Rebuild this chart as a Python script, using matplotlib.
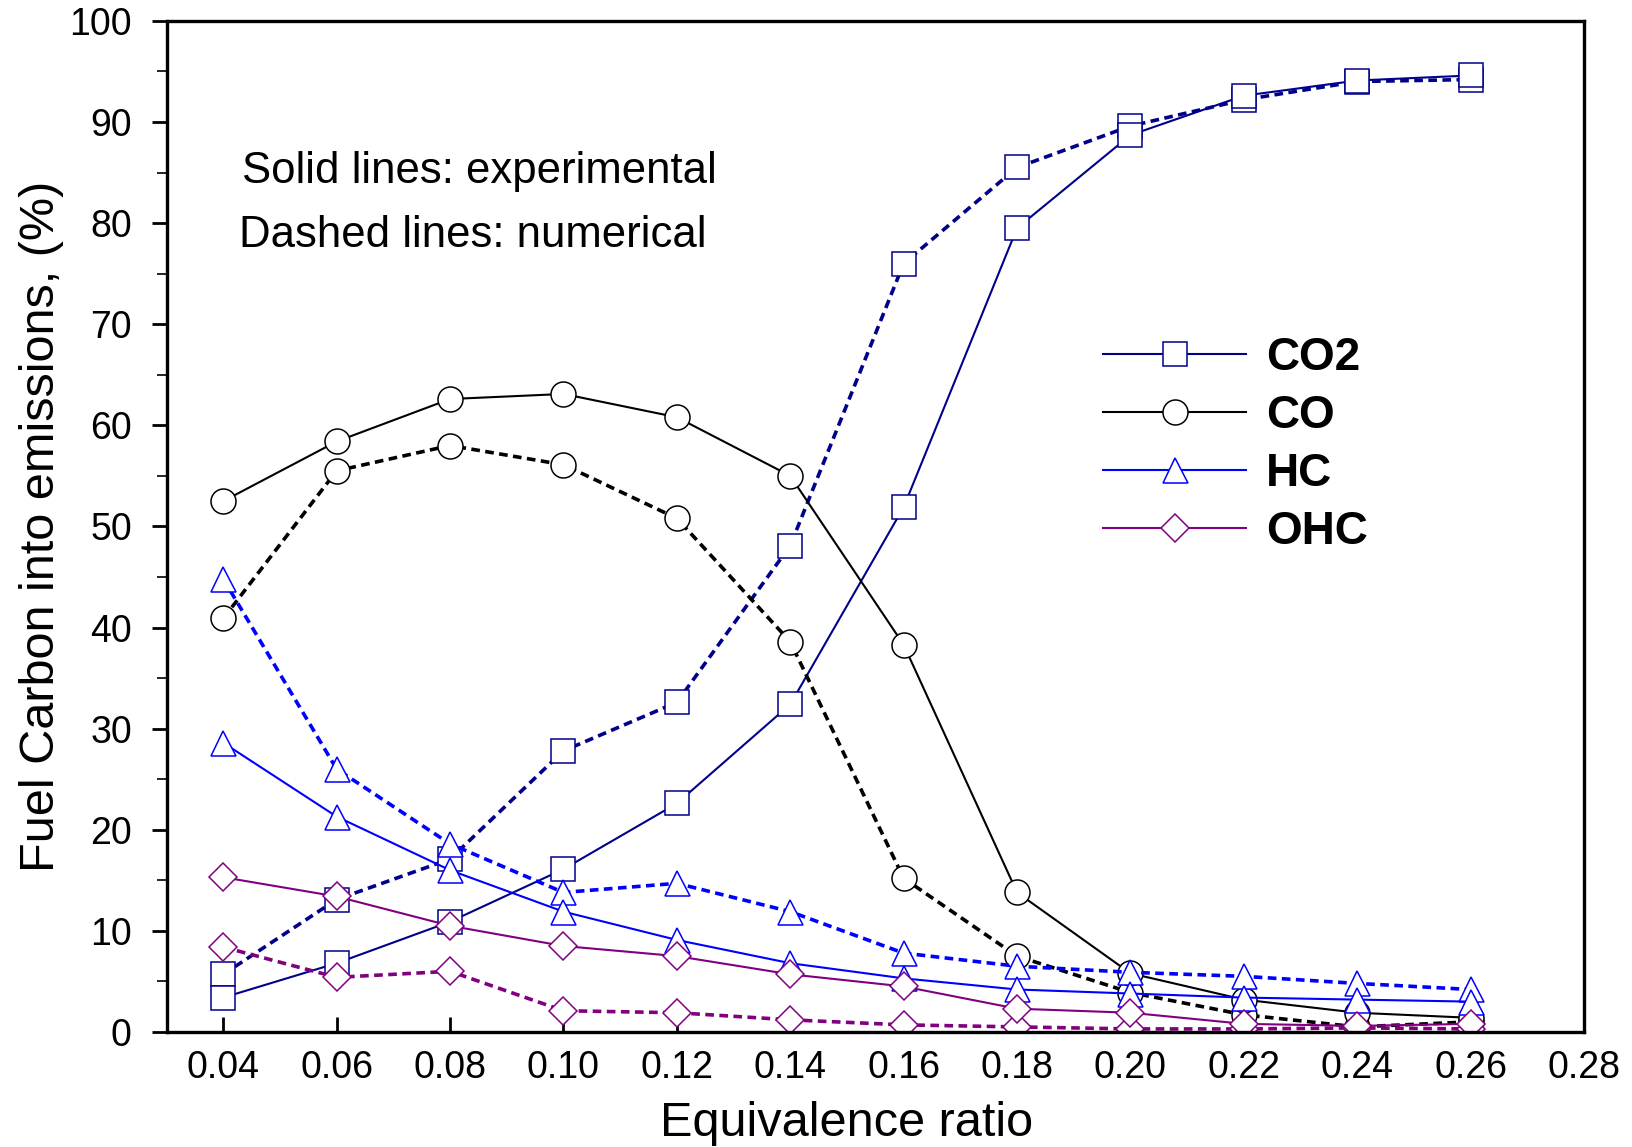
import matplotlib.pyplot as plt
from matplotlib.ticker import MultipleLocator

plt.rcParams["font.family"] = ["Liberation Sans", "DejaVu Sans"]

# Equivalence ratio
phi = [0.04, 0.06, 0.08, 0.10, 0.12, 0.14, 0.16, 0.18, 0.20, 0.22, 0.24, 0.26]

# Fuel carbon into emissions (%), experimental (solid) and numerical (dashed)
co2_exp = [3.4, 6.8, 10.9, 16.1, 22.6, 32.4, 51.9, 79.5, 88.7, 92.6, 94.1, 94.6]
co2_num = [5.7, 13.1, 17.1, 27.8, 32.6, 48.1, 76.0, 85.5, 89.6, 92.2, 94.0, 94.2]
co_exp = [52.5, 58.4, 62.6, 63.1, 60.8, 55.0, 38.3, 13.8, 5.8, 3.2, 1.9, 1.4]
co_num = [40.9, 55.5, 58.0, 56.1, 50.8, 38.6, 15.2, 7.5, 3.9, 1.7, 0.5, 1.0]
hc_exp = [28.6, 21.3, 16.0, 11.9, 9.1, 6.8, 5.3, 4.2, 3.8, 3.4, 3.2, 3.0]
hc_num = [44.8, 26.0, 18.6, 13.8, 14.7, 11.9, 7.8, 6.5, 5.9, 5.5, 4.8, 4.2]
ohc_exp = [15.3, 13.4, 10.5, 8.5, 7.5, 5.7, 4.5, 2.3, 1.9, 0.8, 0.6, 0.8]
ohc_num = [8.4, 5.4, 6.0, 2.1, 1.9, 1.2, 0.7, 0.5, 0.3, 0.3, 0.4, 0.3]

labels = ["CO2", "CO", "HC", "OHC"]
NAVY = "#00008b"
BLACK = "#000000"
BLUE = "#0000ff"
PURPLE = "#800080"

series = [
    (co2_exp, co2_num, NAVY, "s", 17),
    (co_exp, co_num, BLACK, "o", 18),
    (hc_exp, hc_num, BLUE, "^", 18),
    (ohc_exp, ohc_num, PURPLE, "D", 14.5),
]

fig = plt.figure(figsize=(16.33, 11.47), dpi=100)
ax = fig.add_axes([0.102, 0.1003, 0.868, 0.8815])

handles = []
for (exp, num, color, marker, ms), label in zip(series, labels):
    ax.plot(phi, num, color=color, linewidth=2.6, dashes=(2.4, 1.5),
            marker=marker, markersize=ms, markerfacecolor="white",
            markeredgecolor=color, markeredgewidth=1.1)
    (line,) = ax.plot(phi, exp, color=color, linewidth=1.5,
                      marker=marker, markersize=ms, markerfacecolor="white",
                      markeredgecolor=color, markeredgewidth=1.1, label=label)
    handles.append(line)

ax.set_xlim(0.03, 0.28)
ax.set_ylim(0, 100)
ax.set_xticks([0.04, 0.06, 0.08, 0.10, 0.12, 0.14, 0.16, 0.18, 0.20, 0.22, 0.24, 0.26, 0.28])
ax.xaxis.set_major_formatter(lambda v, pos: f"{v:.2f}")
ax.yaxis.set_major_locator(MultipleLocator(10))
ax.yaxis.set_minor_locator(MultipleLocator(5))

ax.tick_params(axis="x", direction="in", length=11, width=2, labelsize=27, pad=13)
ax.tick_params(axis="y", which="major", direction="out", length=11, width=2, labelsize=27, pad=14)
ax.tick_params(axis="y", which="minor", direction="out", length=7, width=1.2)
for spine in ax.spines.values():
    spine.set_linewidth(2.4)

ax.set_xlabel("Equivalence ratio", fontsize=35, labelpad=4)
ax.xaxis.set_label_coords(0.48, -0.068)
ax.set_ylabel("Fuel Carbon into emissions, (%)", fontsize=35, labelpad=4)

ax.text(0.053, 0.851, "Solid lines: experimental", transform=ax.transAxes,
        fontsize=31.5, va="center", ha="left")
ax.text(0.051, 0.788, "Dashed lines: numerical", transform=ax.transAxes,
        fontsize=31.5, va="center", ha="left")

ax.legend(handles=handles, loc="upper left", bbox_to_anchor=(0.661, 0.688),
          frameon=False, prop={"weight": "bold", "size": 33},
          handlelength=3.1, handletextpad=0.45, labelspacing=0.3,
          borderpad=0, borderaxespad=0, numpoints=1)

fig.savefig("out.png", dpi=100)
